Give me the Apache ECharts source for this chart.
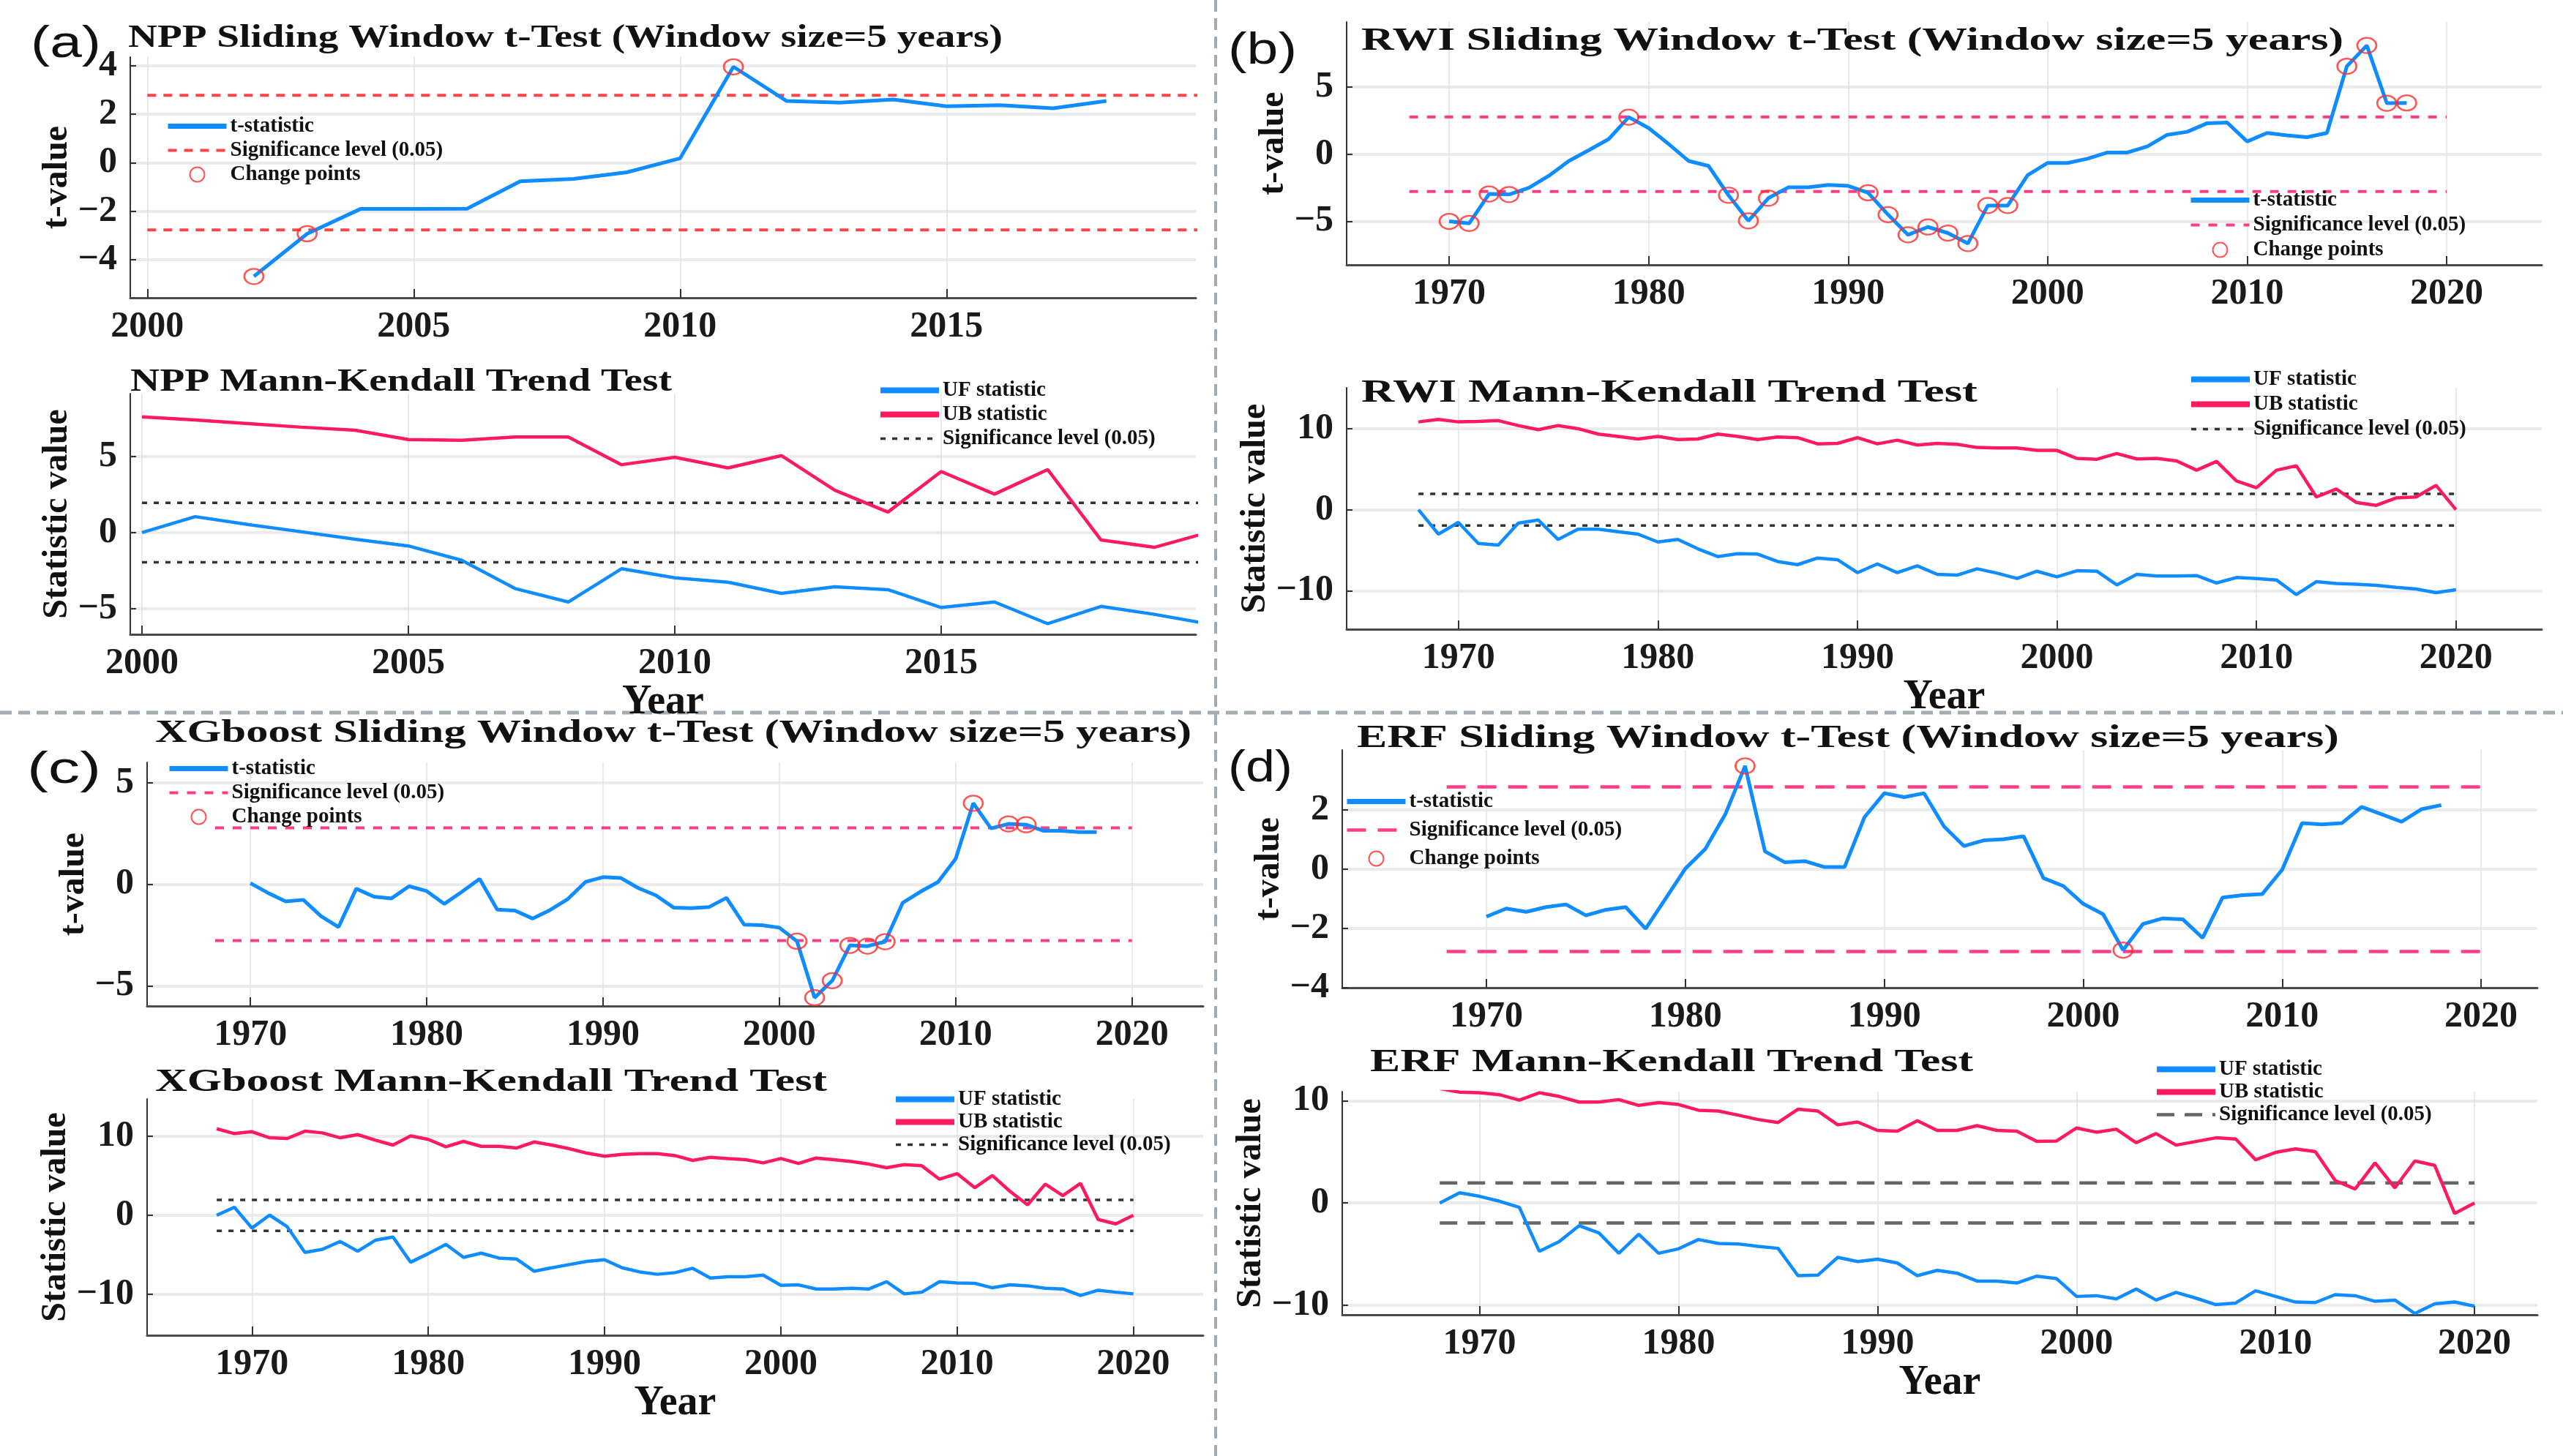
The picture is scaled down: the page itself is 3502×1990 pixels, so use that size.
<!DOCTYPE html>
<html>
<head>
<meta charset="utf-8">
<script src="https://cdn.jsdelivr.net/npm/echarts@6/dist/echarts.min.js"></script>
<style>
html, body { margin: 0; padding: 0; background: #fff; }
#main { width: 3502px; height: 1990px; }
</style>
</head>
<body>
<div id="main"></div>
<script>
//数据：滑动t检验（窗口5年）与 Mann-Kendall 检验
var nppTStart = 2002;
var nppT = [-4.69, -2.93, -1.91, -1.91, -1.90, -0.77, -0.67, -0.40, 0.18, 3.95, 2.54, 2.47, 2.60, 2.32, 2.37, 2.24, 2.54];
var nppChange = [2002, 2003, 2011];
var nppMKStart = 2000;
var nppUF = [0, 1.05, 0.53, 0.05, -0.44, -0.88, -1.82, -3.68, -4.57, -2.38, -2.98, -3.27, -4.00, -3.57, -3.76, -4.93, -4.57, -6.00, -4.86, -5.38, -6.00];
var nppUB = [7.62, 7.42, 7.18, 6.94, 6.74, 6.13, 6.08, 6.29, 6.29, 4.47, 4.96, 4.26, 5.07, 2.80, 1.35, 4.02, 2.53, 4.15, -0.49, -0.97, 0];

var rwiTStart = 1970;
var rwiT = [-5.00, -5.15, -2.96, -3.00, -2.50, -1.60, -0.50, 0.30, 1.13, 2.76,
	1.95, 0.76, -0.50, -0.87, -3.05, -4.96, -3.27, -2.47, -2.47, -2.29,
	-2.36, -2.87, -4.50, -6.00, -5.42, -5.87, -6.65, -3.82, -3.82, -1.56,
	-0.65, -0.65, -0.33, 0.13, 0.13, 0.58, 1.45, 1.67, 2.31, 2.36,
	0.95, 1.58, 1.40, 1.27, 1.58, 6.55, 8.10, 3.80, 3.82];
var rwiChange = [1970, 1971, 1972, 1973, 1979, 1984, 1985, 1986, 1991, 1992, 1993, 1994, 1995, 1996, 1997, 1998, 2015, 2016, 2017, 2018];
var rwiMKStart = 1968;
var rwiUF = [0, -3.01,
	-1.57, -4.16, -4.37, -1.66, -1.27, -3.67, -2.41, -2.41, -2.71, -3.01,
	-3.98, -3.67, -4.82, -5.78, -5.42, -5.48, -6.39, -6.78, -5.96, -6.17,
	-7.77, -6.69, -7.77, -6.93, -7.98, -8.07, -7.29, -7.83, -8.49, -7.59,
	-8.28, -7.53, -7.59, -9.28, -7.98, -8.19, -8.19, -8.13, -9.04, -8.37,
	-8.49, -8.67, -10.48, -8.89, -9.10, -9.19, -9.34, -9.58, -9.79, -10.24, -9.88];
var rwiUB = [10.84, 11.14,
	10.84, 10.90, 11.00, 10.39, 9.88, 10.39, 10.00, 9.34, 9.04, 8.73,
	9.04, 8.67, 8.73, 9.34, 9.04, 8.67, 8.98, 8.89, 8.13, 8.19,
	8.89, 8.13, 8.58, 7.98, 8.19, 8.07, 7.68, 7.62, 7.62, 7.32,
	7.32, 6.33, 6.23, 6.93, 6.27, 6.33, 6.02, 4.88, 5.96, 3.55,
	2.71, 4.88, 5.42, 1.57, 2.56, 0.90, 0.54, 1.45, 1.57, 3.01, 0];

var xgbTStart = 1970;
var xgbT = [0.05, -0.43, -0.85, -0.77, -1.57, -2.11, -0.22, -0.61, -0.70, -0.10,
	-0.34, -0.97, -0.37, 0.26, -1.25, -1.30, -1.69, -1.27, -0.73, 0.11,
	0.35, 0.31, -0.19, -0.55, -1.15, -1.18, -1.13, -0.67, -1.99, -2.02,
	-2.14, -2.81, -5.59, -4.75, -3.01, -3.05, -2.83, -0.91, -0.37, 0.11,
	1.25, 3.99, 2.75, 2.97, 2.93, 2.63, 2.63, 2.57, 2.57];
var xgbChange = [2001, 2002, 2003, 2004, 2005, 2006, 2011, 2013, 2014];
var xgbMKStart = 1968;
var xgbUF = [0, 1.02,
	-1.61, 0.03, -1.45, -4.70, -4.30, -3.31, -4.55, -3.15, -2.75, -5.94,
	-4.85, -3.68, -5.32, -4.79, -5.41, -5.53, -7.08, -6.65, -6.24, -5.84,
	-5.63, -6.65, -7.17, -7.47, -7.26, -6.71, -7.94, -7.79, -7.79, -7.57,
	-8.87, -8.81, -9.33, -9.33, -9.24, -9.33, -8.41, -9.95, -9.74, -8.41,
	-8.56, -8.62, -9.18, -8.81, -8.93, -9.24, -9.33, -10.15, -9.49, -9.74, -9.95];
var xgbUB = [10.97, 10.36,
	10.60, 9.83, 9.74, 10.66, 10.45, 9.83, 10.23, 9.52, 8.91, 10.06,
	9.63, 8.69, 9.37, 8.75, 8.75, 8.53, 9.30, 8.91, 8.44, 7.88,
	7.50, 7.73, 7.81, 7.81, 7.57, 6.96, 7.36, 7.20, 7.05, 6.65,
	7.20, 6.58, 7.26, 7.05, 6.83, 6.49, 6.03, 6.43, 6.28, 4.58,
	5.29, 3.50, 5.05, 3.04, 1.33, 3.96, 2.50, 4.05, -0.53, -1.08, 0];

var erfTStart = 1970;
var erfT = [-1.60, -1.33, -1.44, -1.28, -1.19, -1.56, -1.37, -1.28, -2.01, -1.00,
	0.02, 0.68, 1.84, 3.48, 0.60, 0.23, 0.27, 0.07, 0.07, 1.75,
	2.56, 2.43, 2.56, 1.44, 0.78, 0.97, 1.01, 1.11, -0.30, -0.57,
	-1.17, -1.52, -2.73, -1.85, -1.66, -1.69, -2.32, -0.96, -0.88, -0.84,
	-0.02, 1.55, 1.51, 1.55, 2.10, 1.85, 1.60, 2.02, 2.16];
var erfChange = [1983, 2002];
var erfMKStart = 1968;
var erfUF = [0, 1.00,
	0.65, 0.17, -0.43, -4.73, -3.78, -2.22, -2.94, -4.92, -3.06, -4.92,
	-4.49, -3.58, -3.97, -4.01, -4.25, -4.44, -7.12, -7.07, -5.33, -5.74,
	-5.50, -5.88, -7.12, -6.60, -6.88, -7.65, -7.65, -7.84, -7.17, -7.41,
	-9.15, -9.08, -9.39, -8.43, -9.51, -8.75, -9.32, -9.95, -9.80, -8.60,
	-9.15, -9.70, -9.75, -8.98, -9.08, -9.63, -9.51, -10.82, -9.87, -9.70, -10.11];
var erfUB = [11.20, 10.85,
	10.79, 10.60, 10.07, 10.79, 10.43, 9.88, 9.88, 10.12, 9.55, 9.83,
	9.64, 9.08, 9.00, 8.60, 8.17, 7.88, 9.18, 9.00, 7.65, 7.93,
	7.10, 7.03, 8.05, 7.10, 7.10, 7.57, 7.10, 7.03, 6.02, 6.07,
	7.34, 6.93, 7.22, 5.90, 6.79, 5.66, 6.02, 6.38, 6.26, 4.23,
	4.95, 5.30, 5.02, 2.20, 1.36, 3.92, 1.48, 4.11, 3.68, -1.03, 0];

//显著性水平临界值与横线范围
var tCrit = 2.776;
var mkCrit = 1.96;
var sigSpanNpp = [2000, 2020];
var sigSpan = [1968, 2020];

//刻度
var ticksNpp = [2000, 2005, 2010, 2015];
var ticksYear = [1970, 1980, 1990, 2000, 2010, 2020];

var FONT = '"Liberation Serif", "Times New Roman", serif';
var blue = '#0f8cff';
var pink = '#ff1a60';
var circleRed = '#ff2b2b';

function toPairs(start, vals) {
	return vals.map(function(v, i) { return [start + i, v]; });
}
function pickPairs(start, vals, years) {
	return years.map(function(y) { return [y, vals[y - start]]; });
}
function plainFmt(v) {
	return String(v).replace('-', '\u2212');
}

var option = {
	animation: false,
	backgroundColor: '#ffffff',
	grid: [], xAxis: [], yAxis: [], legend: [], series: [], graphic: []
};

//添加一个子图
function addPanel(p) {
	var i = option.grid.length;
	var tag = '|' + i;
	option.grid.push({ left: p.box[0], top: p.box[1], width: p.box[2], height: p.box[3] });
	option.xAxis.push({
		type: 'value', gridIndex: i, min: p.x[0], max: p.x[1],
		name: p.xName || '', nameLocation: 'middle', nameGap: p.xGap || 0,
		nameTextStyle: { fontFamily: FONT, fontWeight: 'bold', fontSize: 56, color: '#111' },
		axisLine: { show: true, onZero: false, lineStyle: { color: '#4a4a4a', width: 3 } },
		axisTick: { show: true, inside: true, length: 12, customValues: p.xTicks, lineStyle: { color: '#333', width: 2 } },
		axisLabel: { customValues: p.xTicks, margin: 15, fontFamily: FONT, fontWeight: 'bold', fontSize: 50, color: '#1a1a1a', formatter: plainFmt },
		splitLine: { show: true, customValues: p.xTicks, lineStyle: { color: '#e2e2e2', width: 1.5 } }
	});
	option.yAxis.push({
		type: 'value', gridIndex: i, min: p.y[0], max: p.y[1],
		name: p.yName, nameLocation: 'middle', nameGap: p.yGap, nameRotate: 90,
		nameTextStyle: { fontFamily: FONT, fontWeight: 'bold', fontSize: 48, color: '#111' },
		axisLine: { show: true, onZero: false, lineStyle: { color: '#333', width: 2 } },
		axisTick: { show: true, inside: true, length: 8, customValues: p.yTicks, lineStyle: { color: '#333', width: 2 } },
		axisLabel: { customValues: p.yTicks, margin: 18, fontFamily: FONT, fontWeight: 'bold', fontSize: 50, color: '#1a1a1a', formatter: plainFmt },
		splitLine: { show: true, customValues: p.yTicks, lineStyle: { color: '#ebebeb', width: 4 } }
	});
	var items = [], seen = [];
	p.lines.forEach(function(s) {
		var nm = s.name + tag;
		if (seen.indexOf(nm) < 0) {
			seen.push(nm);
			items.push(s.scatter ? { name: nm } :
				{ name: nm, itemStyle: { opacity: 0 }, lineStyle: { width: s.legendWidth || s.width } });
		}
		if (s.scatter) {
			option.series.push({
				type: 'scatter', name: nm, xAxisIndex: i, yAxisIndex: i, data: s.data,
				symbol: 'circle', symbolSize: [26, 21], z: 5,
				itemStyle: { color: 'rgba(0,0,0,0)', borderColor: circleRed, borderWidth: 2.5 }
			});
		} else {
			option.series.push({
				type: 'line', name: nm, xAxisIndex: i, yAxisIndex: i, data: s.data,
				symbol: 'none', showSymbol: false, z: s.z || 3,
				lineStyle: { color: s.color, width: s.width, type: s.dash || 'solid' },
				itemStyle: { color: s.color }
			});
		}
	});
	var lg = p.legend;
	option.legend.push({
		orient: 'vertical', left: lg.left, top: lg.top, padding: 0, itemGap: lg.gap,
		itemWidth: 80, itemHeight: 20, selectedMode: false, data: items,
		formatter: function(n) { return n.split('|')[0]; },
		textStyle: { fontFamily: FONT, fontWeight: 'bold', fontSize: 29, color: '#111' }
	});
}

function sigLines(span, crit, color, width, dash) {
	return [
		{ name: 'Significance level (0.05)', data: [[span[0], crit], [span[1], crit]], color: color, width: width, dash: dash, z: 2 },
		{ name: 'Significance level (0.05)', data: [[span[0], -crit], [span[1], -crit]], color: color, width: width, dash: dash, z: 2 }
	];
}

function tPanel(box, x, y, xTicks, yTicks, yGap, start, vals, change, sig, legend) {
	var lines = [{ name: 't-statistic', data: toPairs(start, vals), color: blue, width: 5, legendWidth: 7, z: 3 }];
	lines = lines.concat(sig);
	lines.push({ name: 'Change points', scatter: true, data: pickPairs(start, vals, change) });
	addPanel({ box: box, x: x, y: y, xTicks: xTicks, yTicks: yTicks, yName: 't-value', yGap: yGap, lines: lines, legend: legend });
}

function mkPanel(box, x, y, xTicks, yTicks, yGap, xGap, start, uf, ub, sig, legend) {
	var lines = [
		{ name: 'UF statistic', data: toPairs(start, uf), color: blue, width: 4.5, legendWidth: 8, z: 3 },
		{ name: 'UB statistic', data: toPairs(start, ub), color: pink, width: 4.5, legendWidth: 8, z: 3 }
	].concat(sig);
	addPanel({ box: box, x: x, y: y, xTicks: xTicks, yTicks: yTicks, yName: 'Statistic value', yGap: yGap,
		xName: 'Year', xGap: xGap, lines: lines, legend: legend });
}

// (a) NPP
tPanel([178, 78, 1456, 329], [1999.68, 2019.68], [-5.57, 4.35], ticksNpp, [-4, -2, 0, 2, 4], 68,
	nppTStart, nppT, nppChange, sigLines(sigSpanNpp, tCrit, '#ff4444', 4, [12, 10]),
	{ left: 226, top: 158, gap: 4 });
mkPanel([178, 538, 1456, 329], [1999.78, 2019.78], [-6.7, 9.15], ticksNpp, [-5, 0, 5], 68, 51,
	nppMKStart, nppUF, nppUB, sigLines(sigSpanNpp, mkCrit, '#333333', 3.5, [7, 9]),
	{ left: 1199, top: 519, gap: 4 });
// (b) RWI
tPanel([1840, 30, 1633, 332], [1964.86, 2024.77], [-8.24, 9.85], ticksYear, [-5, 0, 5], 70,
	rwiTStart, rwiT, rwiChange, sigLines(sigSpan, tCrit, '#ff3d84', 4, [12, 12]),
	{ left: 2990, top: 259, gap: 5 });
mkPanel([1840, 530, 1633, 330], [1964.4, 2024.3], [-14.75, 15.05], ticksYear, [-10, 0, 10], 100, 63,
	rwiMKStart, rwiUF, rwiUB, sigLines(sigSpan, mkCrit, '#333333', 3.5, [7, 9]),
	{ left: 2990, top: 504, gap: 5 });
// (c) XGboost
tPanel([201, 1042, 1443, 333], [1964.14, 2024.04], [-6, 6], ticksYear, [-5, 0, 5], 70,
	xgbTStart, xgbT, xgbChange, sigLines(sigSpan, tCrit, '#ff3d84', 4, [12, 12]),
	{ left: 228, top: 1036, gap: 4 });
mkPanel([201, 1502, 1443, 323], [1964.05, 2023.96], [-15.2, 14.75], ticksYear, [-10, 0, 10], 96, 50,
	xgbMKStart, xgbUF, xgbUB, sigLines(sigSpan, mkCrit, '#333333', 3.5, [7, 9]),
	{ left: 1220, top: 1488, gap: 2 });
// (d) ERF
tPanel([1834, 1025, 1633, 325], [1962.75, 2022.83], [-4, 4.02], ticksYear, [-4, -2, 0, 2], 64,
	erfTStart, erfT, erfChange, sigLines(sigSpan, tCrit, '#ff3d84', 4.5, [26, 16]),
	{ left: 1837, top: 1081, gap: 10 });
mkPanel([1834, 1492, 1633, 305], [1963.1, 2023.16], [-10.95, 10.9], ticksYear, [-10, 0, 10], 82, 63,
	erfMKStart, erfUF, erfUB, sigLines(sigSpan, mkCrit, '#666666', 4.5, [24, 14]),
	{ left: 2943, top: 1447, gap: 2 });

//标题（拉伸以匹配原图宽度）
var measureCtx = document.createElement('canvas').getContext('2d');
function stretchText(str, x1, x2, cy, size, family, weight) {
	var font = weight + ' ' + size + 'px ' + family;
	measureCtx.font = font;
	var w = measureCtx.measureText(str).width;
	return {
		type: 'text', x: x1, y: cy, scaleX: (x2 - x1) / w, z: 10,
		style: { text: str, font: font, fill: '#111', align: 'left', verticalAlign: 'middle' }
	};
}
var titles = [
	['NPP Sliding Window t-Test (Window size=5 years)', 175, 1370, 53],
	['NPP Mann-Kendall Trend Test', 178, 918, 523],
	['RWI Sliding Window t-Test (Window size=5 years)', 1860, 3202, 57],
	['RWI Mann-Kendall Trend Test', 1860, 2702, 538],
	['XGboost Sliding Window t-Test (Window size=5 years)', 212, 1628, 1003],
	['XGboost Mann-Kendall Trend Test', 212, 1130, 1480],
	['ERF Sliding Window t-Test (Window size=5 years)', 1854, 3196, 1010],
	['ERF Mann-Kendall Trend Test', 1872, 2696, 1453]
];
titles.forEach(function(t) {
	option.graphic.push(stretchText(t[0], t[1], t[2], t[3], 44, FONT, 'bold'));
});
var panelTags = [['(a)', 42, 138, 61], ['(b)', 1678, 1772, 70], ['(c)', 37, 138, 1053], ['(d)', 1678, 1766, 1051]];
panelTags.forEach(function(t) {
	option.graphic.push(stretchText(t[0], t[1], t[2], t[3], 62, '"Liberation Sans", Arial, sans-serif', 'normal'));
});
//分隔虚线
option.graphic.push({ type: 'line', z: 0, shape: { x1: 1661, y1: 0, x2: 1661, y2: 1990 },
	style: { stroke: '#a3abb3', lineWidth: 4, lineDash: [16, 9] } });
option.graphic.push({ type: 'line', z: 0, shape: { x1: 0, y1: 974, x2: 3502, y2: 974 },
	style: { stroke: '#a3abb3', lineWidth: 5, lineDash: [16, 9] } });

var myChart = echarts.init(document.getElementById('main'));
myChart.setOption(option);
</script>
</body>
</html>
